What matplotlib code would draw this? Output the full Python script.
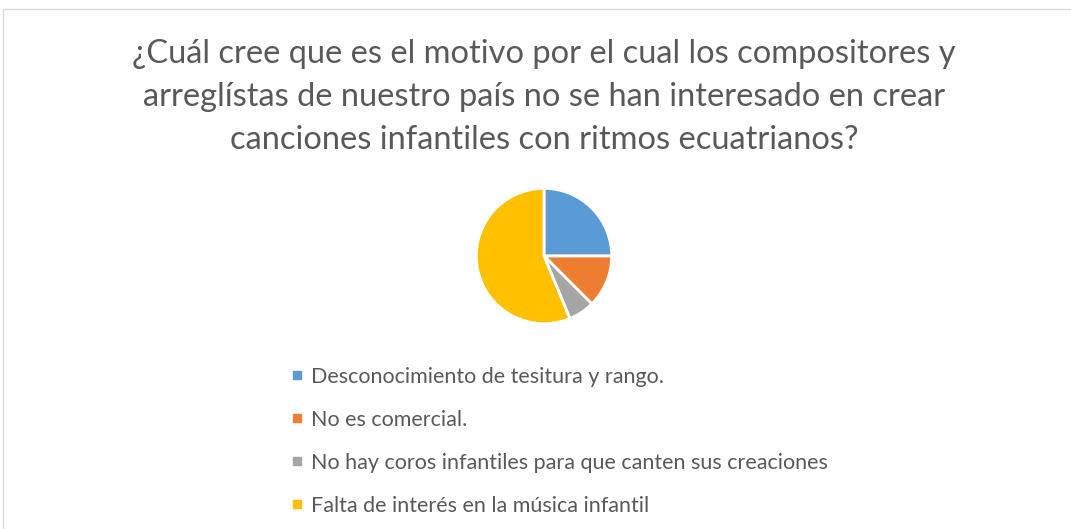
import matplotlib
matplotlib.use("Agg")
import matplotlib.pyplot as plt
from matplotlib.lines import Line2D
from matplotlib.patches import Rectangle

title = "¿Cuál cree que es el motivo por el cual los compositores y\narreglístas de nuestro país no se han interesado en crear\ncanciones infantiles con ritmos ecuatrianos?"
categories = [
    "Desconocimiento de tesitura y rango.",
    "No es comercial.",
    "No hay coros infantiles para que canten sus creaciones",
    "Falta de interés en la música infantil",
]
values = [4, 2, 1, 9]
colors = ["#5B9BD5", "#ED7D31", "#A5A5A5", "#FFC000"]

W, H = 1071, 529
fig = plt.figure(figsize=(W / 100, H / 100), dpi=100)
plt.rcParams['font.family'] = ['Lato', 'DejaVu Sans']
text_color = "#595959"

# chart border
fig.patches.append(Rectangle((3 / W, -0.01), 1.1, (H - 9) / H + 0.01,
                             transform=fig.transFigure, fill=False,
                             edgecolor="#D9D9D9", linewidth=1))

fig.text(544 / W, 1 - 97 / H, title, ha="center", va="center",
         fontsize=23.5, color=text_color, linespacing=1.53)

cx, cy, r = 544, 256, 69
ax = fig.add_axes([(cx - r) / W, (H - cy - r) / H, 2 * r / W, 2 * r / H])
wedges, _ = ax.pie(values, colors=colors, startangle=90, counterclock=False,
                   radius=1, wedgeprops=dict(edgecolor="white", linewidth=2))
ax.set_xlim(-1.02, 1.02)
ax.set_ylim(-1.02, 1.02)
ax.set_aspect("equal")
ax.axis("off")

handles = [Line2D([], [], marker="s", linestyle="none", markersize=6,
                  markerfacecolor=c, markeredgecolor=c) for c in colors]
fig.legend(handles, categories, loc="upper left",
           bbox_to_anchor=(280 / W, 1 - 356 / H), frameon=False,
           fontsize=15.5, labelcolor=text_color, handlelength=0.6,
           handletextpad=0.35, labelspacing=1.07, borderpad=0)

fig.savefig("out.png", dpi=100)
